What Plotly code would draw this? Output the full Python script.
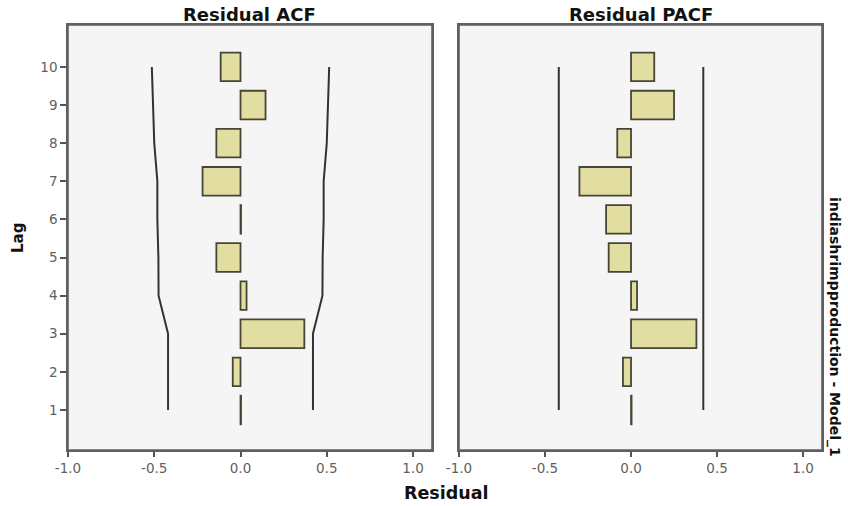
import plotly.graph_objects as go

lags = [1, 2, 3, 4, 5, 6, 7, 8, 9, 10]
acf = [0.003, -0.045, 0.37, 0.035, -0.14, 0.003, -0.22, -0.14, 0.145, -0.115]
acf_upper = [0.42, 0.42, 0.42, 0.475, 0.476, 0.482, 0.482, 0.50, 0.506, 0.514]
acf_lower = [-v for v in acf_upper]
pacf = [0.003, -0.047, 0.38, 0.035, -0.13, -0.145, -0.30, -0.08, 0.25, 0.135]
pacf_upper = [0.42] * 10
pacf_lower = [-0.42] * 10
xticks = [-1.0, -0.5, 0.0, 0.5, 1.0]
xticklabels = ["-1.0", "-0.5", "0.0", "0.5", "1.0"]

W, H = 848, 506
L, R, T, B = 68, 26, 25, 56
PW, PH = W - L - R, H - T - B


def px(x):
    return (x - L) / PW


def py(y):
    return (H - B - y) / PH


BAR_FILL = "#e2dda0"
BAR_LINE = "#474636"
LINE_COL = "#333333"

fig = go.Figure()
fig.add_trace(go.Bar(y=lags, x=acf, orientation="h", width=0.75,
                     marker=dict(color=BAR_FILL, line=dict(color=BAR_LINE, width=1.8)),
                     xaxis="x", yaxis="y", showlegend=False))
fig.add_trace(go.Scatter(y=lags, x=acf_upper, mode="lines", line=dict(color=LINE_COL, width=2),
                         xaxis="x", yaxis="y", showlegend=False))
fig.add_trace(go.Scatter(y=lags, x=acf_lower, mode="lines", line=dict(color=LINE_COL, width=2),
                         xaxis="x", yaxis="y", showlegend=False))
fig.add_trace(go.Bar(y=lags, x=pacf, orientation="h", width=0.75,
                     marker=dict(color=BAR_FILL, line=dict(color=BAR_LINE, width=1.8)),
                     xaxis="x2", yaxis="y2", showlegend=False))
fig.add_trace(go.Scatter(y=lags, x=pacf_upper, mode="lines", line=dict(color=LINE_COL, width=2),
                         xaxis="x2", yaxis="y2", showlegend=False))
fig.add_trace(go.Scatter(y=lags, x=pacf_lower, mode="lines", line=dict(color=LINE_COL, width=2),
                         xaxis="x2", yaxis="y2", showlegend=False))

tickfont = dict(family="DejaVu Sans", size=13.5, color="#5f5f5f")
xcommon = dict(range=[-1.0, 1.11], tickvals=xticks, ticktext=xticklabels, ticks="outside",
               ticklen=5, tickwidth=1.5, tickcolor="#555555", tickfont=tickfont,
               showgrid=False, zeroline=False, showline=True, mirror=True,
               linecolor="#606060", linewidth=1.6, fixedrange=True)
ycommon = dict(range=[-0.05, 11.1], tickvals=lags, showgrid=False, zeroline=False,
               showline=True, mirror=True, linecolor="#606060", linewidth=1.6)

fig.update_layout(
    width=W, height=H,
    margin=dict(l=L, r=R, t=T, b=B),
    paper_bgcolor="white",
    plot_bgcolor="#f5f5f5",
    barmode="overlay",
    xaxis=dict(domain=[0, px(432)], anchor="y", **xcommon),
    xaxis2=dict(domain=[px(459), 1], anchor="y2", **xcommon),
    yaxis=dict(domain=[0, 1], anchor="x", ticks="outside", ticklen=6, tickwidth=1.5,
               tickcolor="#555555", tickfont=tickfont, **ycommon),
    yaxis2=dict(domain=[0, 1], anchor="x2", ticks="", showticklabels=False, **ycommon),
    shapes=[
        dict(type="rect", xref="x domain", yref="y domain", x0=0, x1=1, y0=0, y1=1,
             line=dict(color="#606060", width=1.6), layer="above"),
        dict(type="rect", xref="x2 domain", yref="y2 domain", x0=0, x1=1, y0=0, y1=1,
             line=dict(color="#606060", width=1.6), layer="above"),
    ],
    annotations=[
        dict(text="<b>Residual ACF</b>", x=px(249), y=py(14), xref="paper", yref="paper",
             showarrow=False, xanchor="center", yanchor="middle",
             font=dict(family="DejaVu Sans", size=18, color="#111111")),
        dict(text="<b>Residual PACF</b>", x=px(641), y=py(14), xref="paper", yref="paper",
             showarrow=False, xanchor="center", yanchor="middle",
             font=dict(family="DejaVu Sans", size=18, color="#111111")),
        dict(text="<b>Residual</b>", x=px(446), y=py(493), xref="paper", yref="paper",
             showarrow=False, xanchor="center", yanchor="middle",
             font=dict(family="DejaVu Sans", size=17.5, color="#111111")),
        dict(text="<b>Lag</b>", x=px(18), y=py(238), xref="paper", yref="paper",
             showarrow=False, xanchor="center", yanchor="middle", textangle=-90,
             font=dict(family="DejaVu Sans", size=15, color="#111111")),
        dict(text="<b>indiashrimpproduction - Model_1</b>", x=px(835), y=py(327),
             xref="paper", yref="paper", showarrow=False, xanchor="center",
             yanchor="middle", textangle=90,
             font=dict(family="DejaVu Sans", size=14, color="#111111")),
    ],
)

fig.write_html("out.html")
